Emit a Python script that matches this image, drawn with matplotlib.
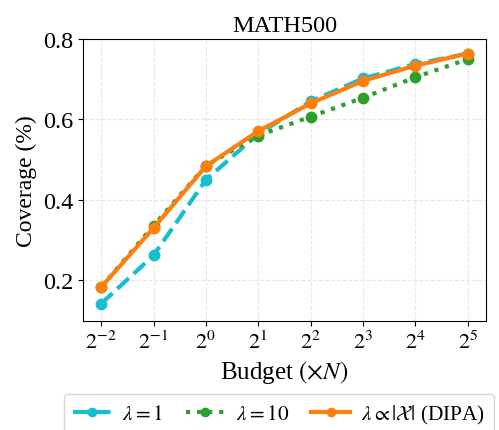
import matplotlib
matplotlib.use("Agg")
import matplotlib.pyplot as plt
import numpy as np

plt.rcParams['font.family'] = 'serif'
plt.rcParams['font.serif'] = ['Liberation Serif', 'DejaVu Serif']
plt.rcParams['mathtext.fontset'] = 'stix'

# Budget exponents (log2 of multiple of N)
exps = [-2, -1, 0, 1, 2, 3, 4, 5]
tick_labels = [r'$2^{%d}$' % e for e in exps]

# Coverage for each setting
cov_lam1 = [0.142, 0.262, 0.450, 0.564, 0.645, 0.702, 0.738, 0.764]
cov_lam10 = [0.183, 0.336, 0.485, 0.560, 0.607, 0.654, 0.705, 0.750]
cov_dipa = [0.183, 0.330, 0.484, 0.571, 0.640, 0.696, 0.734, 0.764]

fig = plt.figure(figsize=(4.99, 4.31), dpi=100)
ax = fig.add_axes([0.166, 0.254, 0.808, 0.653])

ax.plot(exps, cov_lam1, color='#17becf', linestyle='--', linewidth=3,
        marker='o', markersize=7.5, label=r'$\lambda=1$')
ax.plot(exps, cov_lam10, color='#2ca02c', linestyle=':', linewidth=3,
        marker='o', markersize=7.5, label=r'$\lambda=10$')
ax.plot(exps, cov_dipa, color='#ff7f0e', linestyle='-', linewidth=3,
        marker='o', markersize=7.5, label=r'$\lambda \propto |\mathcal{X}|$ (DIPA)')

ax.set_xticks(exps)
ax.set_xticklabels(tick_labels)
ax.set_yticks([0.2, 0.4, 0.6, 0.8])
ax.set_ylim(0.1, 0.8)
ax.tick_params(axis='x', labelsize=16)
ax.tick_params(axis='y', labelsize=17.5)
ax.grid(True, linestyle='--', color='#dddddd', linewidth=0.8, alpha=0.7)

ax.set_xlabel(r'Budget $(\times N)$', fontsize=18)
ax.set_ylabel('Coverage (%)', fontsize=17)
ax.set_title('MATH500', fontsize=17.5)

fig.legend(loc='upper left', bbox_to_anchor=(64 / 499, 1 - 395 / 431), ncol=3,
           fontsize=15.3, frameon=True, handlelength=1.8, handletextpad=0.55,
           columnspacing=1.05, borderaxespad=0, markerscale=0.8)

fig.savefig('out.png', dpi=100)
